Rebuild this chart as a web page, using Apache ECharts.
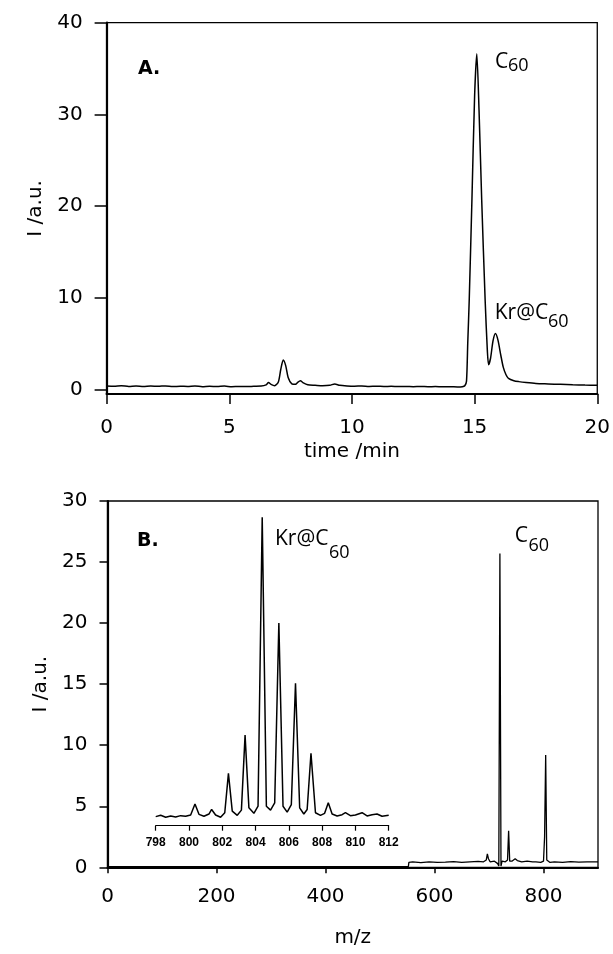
<!DOCTYPE html>
<html><head><meta charset="utf-8">
<script src="https://cdn.jsdelivr.net/npm/echarts@6/dist/echarts.min.js"></script>
<style>html,body{margin:0;padding:0;background:#fff}#c{width:613px;height:954px}</style>
</head><body><div id="c"></div>
<script>
// ---- Panel A: HPLC trace ----
const timeA = [0,0.3,0.6,0.9,1.2,1.5,1.8,2.1,2.4,2.7,3.0,3.3,3.6,3.9,4.2,4.5,4.8,5.1,5.4,5.7,6.0,6.3,6.5,6.6,6.7,6.85,7.0,7.1,7.2,7.3,7.4,7.55,7.7,7.8,7.9,8.0,8.2,8.5,8.8,9.1,9.3,9.5,9.8,10.1,10.4,10.7,11.0,11.3,11.6,11.9,12.2,12.5,12.8,13.1,13.4,13.7,14.0,14.3,14.5,14.6,14.67,14.72,14.78,14.89,15.0,15.09,15.18,15.29,15.43,15.52,15.57,15.65,15.75,15.85,15.95,16.07,16.17,16.28,16.38,16.6,16.8,17.1,17.5,18.0,18.5,19.0,19.5,20.0];
const intA = [0.38,0.35,0.4,0.33,0.37,0.32,0.36,0.34,0.38,0.31,0.35,0.33,0.37,0.3,0.34,0.32,0.36,0.3,0.33,0.31,0.34,0.36,0.5,0.75,0.55,0.4,0.8,2.2,3.2,2.6,1.3,0.6,0.55,0.8,0.95,0.75,0.5,0.45,0.4,0.45,0.6,0.45,0.38,0.35,0.37,0.33,0.35,0.32,0.34,0.31,0.33,0.3,0.32,0.29,0.31,0.28,0.3,0.27,0.3,0.4,0.9,5,9.7,20.6,32,36.6,30.5,20.6,9.7,4.2,2.7,3.4,5.3,6.1,5.4,3.7,2.4,1.6,1.2,0.95,0.85,0.75,0.65,0.6,0.55,0.5,0.47,0.45];
const ticksAx = [0,5,10,15,20];
const ticksAy = [0,10,20,30,40];

// ---- Panel B: mass spectrum ----
const mzB = [0,552,553,560,575,590,605,620,635,650,665,680,690,695,697,699,702,710,716,718,720,722,724,730,734,736,738,742,748,750,752,760,770,780,783,786,795,800,802,804,806,808,812,820,835,850,865,880,900];
const intB = [0.05,0.05,0.4,0.45,0.38,0.45,0.4,0.42,0.47,0.4,0.44,0.48,0.45,0.6,1.1,0.7,0.45,0.5,0.3,0.1,25.7,0.1,0.5,0.45,0.6,3.0,0.5,0.5,0.7,0.8,0.55,0.45,0.5,0.45,0.6,0.45,0.4,0.5,2.5,9.2,0.6,0.45,0.4,0.45,0.4,0.47,0.42,0.45,0.45];
const ticksBx = [0,200,400,600,800];
const ticksBy = [0,5,10,15,20,25,30];

// ---- Inset: Kr@C60 isotope pattern (relative units) ----
const mzInset = [798,798.3,798.6,798.9,799.2,799.5,799.8,800.1,800.36,800.6,800.9,801.2,801.36,801.6,801.9,802.15,802.37,802.6,802.9,803.15,803.37,803.6,803.9,804.15,804.4,804.65,804.9,805.15,805.4,805.65,805.9,806.15,806.4,806.65,806.9,807.1,807.33,807.6,807.9,808.15,808.37,808.6,808.9,809.2,809.4,809.7,810.0,810.4,810.7,811.0,811.3,811.6,812];
const intInset = [2.8,3.2,2.6,3.0,2.7,3.1,2.9,3.3,6.7,3.5,2.9,3.6,5.0,3.3,2.6,4.0,16.1,4.5,3.2,4.8,27.9,5.5,3.8,6,95,6,4.8,7,62.4,6,4.2,6.5,43.9,5.5,3.6,5.0,22.3,4,3.2,3.8,7.1,3.6,3.0,3.4,4.0,3.1,3.3,4.0,3.0,3.4,3.6,2.9,3.2];
const ticksInset = [798,800,802,804,806,808,810,812];

const pairs = (xs, ys) => xs.map((x, i) => [x, ys[i]]);
const FONT = '"DejaVu Sans", sans-serif';
const ANN = '"Open Sans", sans-serif';

function xAxisCfg(grid, min, max, ticks, name, gap, tickLen, margin) {
  return {
    type: 'value', gridIndex: grid, min: min, max: max,
    name: name, nameLocation: 'middle', nameGap: gap,
    nameTextStyle: {fontFamily: FONT, fontSize: 20, color: '#000'},
    axisLine: {show: true, onZero: false, lineStyle: {color: '#000', width: 2.2}},
    axisTick: {show: true, inside: false, length: tickLen, customValues: ticks, lineStyle: {color: '#000', width: 1.5}},
    axisLabel: {show: true, customValues: ticks, margin: margin, fontFamily: FONT, fontSize: 20, color: '#000'},
    splitLine: {show: false}
  };
}
function yAxisCfg(grid, min, max, ticks, gap, tickLen, margin) {
  return {
    type: 'value', gridIndex: grid, min: min, max: max,
    name: 'I /a.u.', nameLocation: 'middle', nameGap: gap, nameRotate: 90,
    nameTextStyle: {fontFamily: FONT, fontSize: 20, color: '#000'},
    axisLine: {show: true, onZero: false, lineStyle: {color: '#000', width: 2.2}},
    axisTick: {show: true, inside: false, length: tickLen, customValues: ticks, lineStyle: {color: '#000', width: 1.5}},
    axisLabel: {show: true, customValues: ticks, margin: margin, fontFamily: FONT, fontSize: 20, color: '#000'},
    splitLine: {show: false}
  };
}

function txt(x, y, s, font) {
  return {type: 'text', x: x, y: y, silent: true,
    style: {text: s, font: font, fill: '#000', align: 'left', verticalAlign: 'middle'}};
}

const chart = echarts.init(document.getElementById('c'), null, {renderer: 'canvas'});
chart.setOption({
  animation: false,
  backgroundColor: '#fff',
  grid: [
    {left: 106.6, right: 12.5, top: 22.7, bottom: 560, show: true, borderColor: '#000', borderWidth: 1.3, backgroundColor: 'transparent'},
    {left: 107.5, right: 15, top: 501, bottom: 86.7, show: true, borderColor: '#000', borderWidth: 1.3, backgroundColor: 'transparent'},
    {left: 155.7, width: 233, top: 501, bottom: 128.3, show: false}
  ],
  xAxis: [
    xAxisCfg(0, 0, 20, ticksAx, 'time /min', 48, 10, 24),
    xAxisCfg(1, 0, 900, ticksBx, 'm/z', 60, 6, 19),
    {
      type: 'value', gridIndex: 2, min: 798, max: 812,
      axisLine: {show: true, onZero: false, lineStyle: {color: '#000', width: 1.2}},
      axisTick: {show: true, length: 5, customValues: ticksInset, lineStyle: {color: '#000', width: 1.2}},
      axisLabel: {show: true, customValues: ticksInset, margin: 11, fontFamily: '"Liberation Sans", Arial, sans-serif', fontSize: 12, fontWeight: 'bold', color: '#000'},
      splitLine: {show: false}
    }
  ],
  yAxis: [
    yAxisCfg(0, -0.5, 40, ticksAy, 46, 12, 24),
    yAxisCfg(1, 0, 30, ticksBy, 46, 8, 20),
    {type: 'value', gridIndex: 2, min: 0, max: 100, show: false, splitLine: {show: false}}
  ],
  series: [
    {type: 'line', xAxisIndex: 0, yAxisIndex: 0, data: pairs(timeA, intA), showSymbol: false, smooth: 0.25,
      lineStyle: {color: '#000', width: 1.5}},
    {type: 'line', xAxisIndex: 1, yAxisIndex: 1, data: pairs(mzB, intB), showSymbol: false,
      lineStyle: {color: '#000', width: 1.3}},
    {type: 'line', xAxisIndex: 2, yAxisIndex: 2, data: pairs(mzInset, intInset), showSymbol: false,
      lineStyle: {color: '#000', width: 1.5}}
  ],
  graphic: [
    txt(138, 69.5, 'A.', 'bold 19px "DejaVu Sans"'),
    txt(137, 541, 'B.', 'bold 19px "DejaVu Sans"'),
    txt(495, 61.7, 'C', '21px ' + ANN), txt(508, 66, '60', '18px ' + ANN),
    txt(494.7, 313.5, 'Kr@C', '21px ' + ANN), txt(548, 321.7, '60', '18px ' + ANN),
    txt(275, 539, 'Kr@C', '21px ' + ANN), txt(329, 553, '60', '18px ' + ANN),
    txt(514.7, 536.5, 'C', '21px ' + ANN), txt(528.5, 546, '60', '18px ' + ANN)
  ]
});
</script>
</body></html>
